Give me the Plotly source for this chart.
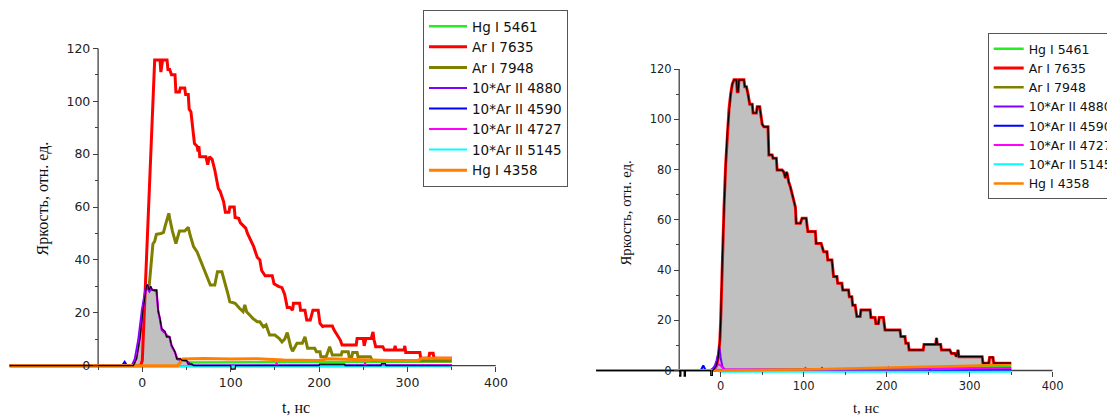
import plotly.graph_objects as go

W, H = 1115, 416
OFF = 8  # the page body has an 8 px margin; positions below are page pixels

# ---------------- left panel data ----------------
t_5461_L = [-150, 30, 45, 100, 150, 200, 250, 300, 350]
v_5461_L = [0, 0, 1.2, 1.3, 1.2, 1.4, 1.3, 1.5, 1.6]

t_7635_L = [-150, -2, 0, 7, 14, 20, 21, 23, 28, 29,
            31, 33, 37, 38, 42, 43, 48, 49, 52, 53,
            55, 57, 59, 62, 63, 64, 65, 72, 74, 76,
            79, 82, 86, 88, 92, 94, 98, 99, 104, 105,
            109, 111, 117, 119, 123, 126, 130, 133, 135, 139,
            147, 149, 154, 158, 161, 164, 167, 170, 171, 178,
            179, 184, 186, 190, 193, 199, 201, 204, 206, 215,
            217, 220, 224, 226, 242, 243, 250, 251, 253, 259,
            261, 262, 264, 272, 274, 285, 286, 287, 296, 297,
            298, 314, 315, 324, 325, 329, 330, 350]
v_7635_L = [0, 0, 2, 58, 115.6, 115.6, 111, 115.6, 115.6, 112,
            112, 110, 110, 103.5, 103.5, 105, 105, 102.5, 102.5, 97,
            96, 90, 84, 83, 81, 83, 79, 79, 76, 79,
            78, 74, 67, 66, 62, 58, 58, 60, 60, 56,
            55.7, 54, 52, 50, 47, 45, 41, 40, 36, 34,
            34, 31, 30, 29.5, 27, 22, 22, 21, 23.6, 23.6,
            21, 21, 17.3, 17.3, 21, 21, 16, 14.8, 15, 15,
            13.5, 12, 9.7, 7.8, 7.8, 10.3, 10.3, 7.5, 10.3, 10.3,
            12.8, 10, 7.2, 7.2, 5.9, 5.9, 7.5, 5.9, 5.9, 7.5,
            5, 5, 2.8, 2.8, 4.7, 4.7, 2.8, 2.8]

t_7948_L = [-150, -3, 0, 3, 5, 8, 10, 12, 14, 16,
            21, 24, 26, 30, 31, 34, 38, 40, 42, 48,
            52, 54, 58, 62, 65, 68, 72, 77, 82, 85,
            90, 94, 97, 99, 105, 110, 114, 116, 118, 122,
            125, 130, 133, 137, 140, 144, 150, 155, 158, 161,
            164, 168, 170, 175, 181, 184, 187, 195, 197, 201,
            202, 208, 212, 215, 225, 226, 233, 234, 237, 238,
            243, 244, 258, 260, 350]
v_7948_L = [0, 0, 3, 12, 20, 31, 40, 46, 47, 49.7,
            50, 50.4, 53, 57.6, 55.7, 51, 46.2, 49, 50.9, 50.9,
            52.3, 49.5, 45, 43, 40.6, 38, 35, 30.5, 30.5, 35.5,
            35.5, 31, 27, 24.2, 23.6, 21.7, 20.4, 23, 20.4, 19,
            17.9, 16.6, 16.6, 14.7, 15.4, 11.6, 11.6, 10.3, 9, 10,
            12.5, 7, 5.5, 8.5, 8.5, 10.9, 6.6, 6.6, 5.3, 5.3,
            3.4, 3.4, 7.2, 4, 4, 5.3, 5.3, 3.4, 3.4, 5,
            5, 3.4, 3.4, 2, 1.8]

t_4880_L = [-150, -12, -8.5, -4.5, -0.5, 3.5, 5.5, 8, 10, 16,
            18, 20, 22, 25, 31, 33, 37, 40, 50, 55, 60, 350]
v_4880_L = [0, 0, 2.6, 10, 21, 29, 29.5, 28, 29, 28,
            21, 17, 13.5, 12.5, 10.5, 7.5, 5, 2.4, 1.8, 0.5, 0, 0.2]

t_4590_L = [-150, -23, -20, -17, 0, 10, 20, 40, 100, 200, 300, 350]
v_4590_L = [0, 0, 1.5, 0, 0, 0.8, 0.5, 0.2, 0.1, 0.2, 0.1, 0.2]

t_4727_L = [-150, -10, -6.4, -2.6, 1.1, 4.9, 6, 7.9, 9.4, 11.3,
            16.2, 17, 18, 20, 21.9, 25.7, 27.5, 31, 33, 37,
            39, 43, 45, 50, 52, 56, 58, 150, 152, 154,
            250, 252, 254, 350]
v_4727_L = [0, 0, 2.8, 10.4, 21.7, 30.5, 30.5, 28.6, 30, 28.6,
            28.6, 25.5, 20.4, 17.9, 14, 12.9, 10.9, 10.9, 7.8, 5.2,
            2.6, 2.6, 2, 2, 0.6, 0.6, 0, 0, 0.8, 0,
            0, 0.9, 0, 0.3]

t_5145_L = [-150, -5, 0, 100, 200, 300, 350]
v_5145_L = [0, 0, -0.4, -0.4, -0.3, -0.3, -0.3]

t_4358_L = [-150, 40, 46, 70, 100, 130, 160, 200, 210, 240, 280, 312, 316, 350]
v_4358_L = [0, 0, 2.5, 2.7, 2.5, 2.6, 2.2, 2.0, 2.6, 2.3, 2.0, 2.0, 2.8, 2.8]

# filled (grey) series of the left panel
t_fill_L = [-150, -10, -6.4, -2.6, 1.1, 4.9, 6, 7.9, 9.4, 11.3,
            16.2, 17, 18, 20, 21.9, 25.7, 27.5, 31, 33, 37,
            39, 43, 45, 50, 52, 56, 58, 100, 100.5, 105,
            105.5, 200, 200.5, 229, 229.5, 270, 270.5, 275, 275.5, 350]
v_fill_L = [0, 0, 2.8, 10.4, 21.7, 30.5, 30.5, 28.6, 30, 28.6,
            28.6, 25.5, 20.4, 17.9, 14, 12.9, 10.9, 10.9, 7.8, 5.2,
            2.6, 2.6, 2, 2, 0.6, 0.6, 0, 0, -1.3, -1.3,
            0, 0, 0.6, 0.6, 0, 0, 0.8, 0.8, 0, 0]

# ---------------- right panel data ----------------
t_5461_R = [-150, 0, 100, 200, 300, 350]
v_5461_R = [0, 0, 0.3, 0.7, 1.2, 1.5]

t_7635_R = [-150, -12, -8, -5, -3, -1, 0, 2, 4, 6,
            8, 10, 12, 14, 16, 19, 20, 21, 22, 28,
            29, 31, 33, 35, 38, 39, 43, 44, 47, 48,
            50, 52, 57, 58, 62, 63, 67, 68, 74, 76,
            78, 79, 80, 82, 84, 87, 90, 91, 96, 98,
            103, 105, 114, 115, 121, 124, 128, 129, 134, 136,
            140, 141, 146, 147, 154, 155, 158, 159, 162, 164,
            168, 169, 180, 181, 186, 187, 190, 191, 196, 198,
            216, 217, 222, 223, 226, 227, 244, 245, 259, 260,
            261, 265, 266, 276, 278, 282, 284, 286, 287, 315,
            316, 323, 324, 328, 329, 350]
v_7635_R = [0, 0, 0.5, 2, 5, 12, 20, 45, 65, 82,
            95, 104, 110, 114, 115.7, 115.7, 111, 111, 115.7, 115.7,
            113, 113, 110, 106, 106, 102.5, 102.5, 105, 105, 102.5,
            98, 97, 97, 85.8, 85.8, 84.5, 84.5, 79.8, 79.8, 79,
            76.6, 79, 78.5, 75, 73, 69, 65, 58.6, 58.6, 60.6,
            60.6, 55.3, 55.3, 50.6, 50.6, 47.3, 47.3, 44, 44, 37.4,
            37.4, 34.7, 34.7, 32, 32, 29.4, 29.4, 26, 26, 21.5,
            21.5, 24.1, 24.1, 21.1, 21.1, 18.7, 18.7, 21.1, 21.1, 16.1,
            16.1, 13.5, 13.5, 10.8, 10.8, 8.2, 8.2, 10.4, 10.4, 13,
            10.4, 10.4, 8.2, 8.2, 6.8, 6.8, 5.5, 8.2, 5.5, 5.5,
            2.9, 2.9, 5.2, 5.2, 2.9, 2.9]

t_7948_R = [-150, 0, 100, 200, 350]
v_7948_R = [0, 0, 0.4, 0.6, 1.0]

t_4880_R = [-150, -12, -9, -7, -5, -3, -1.5, 0, 2, 5, 120, 122, 124, 200, 202, 204, 350]
v_4880_R = [0, 0, 1, 2, 4, 6.5, 9, 5, 1.5, 0.3, 0.2, 1, 0.2, 0.3, 1.2, 0.3, 0.5]

t_4590_R = [-150, -24, -21, -18, 0, 350]
v_4590_R = [0, 0, 2, 0, 0, 0.3]

t_4727_R = [-150, -10, -6, -3, 0, 4, 100, 102, 104, 250, 252, 254, 350]
v_4727_R = [0, 0, 1, 2.5, 2, 0.5, 0.3, 1, 0.3, 0.5, 1.3, 0.5, 1]

t_5145_R = [-150, -5, 0, 350]
v_5145_R = [0, 0, -0.5, -0.5]

t_4358_R = [-150, -2, 100, 200, 250, 300, 350]
v_4358_R = [0, 0, 0.4, 1.0, 1.4, 1.9, 2.4]

# baseline of the filled series before the rise (right panel)
t_base_R = [-150, -49.5, -49.5, -48, -48, -44, -44, -42.5, -42.5, -12, -12, -10, -10]
v_base_R = [0, 0, -2.2, -2.2, 0, 0, -2.2, -2.2, 0, 0, -2.0, -2.0, 0]

names = ["Hg I 5461", "Ar I 7635", "Ar I 7948", "10*Ar II 4880",
         "10*Ar II 4590", "10*Ar II 4727", "10*Ar II 5145", "Hg I 4358"]
colors = ["#22ee22", "#ff0000", "#808000", "#8000ff",
          "#0000ff", "#ff00ff", "#00ffff", "#ff8000"]

left_series = [(t_5461_L, v_5461_L), (t_7635_L, v_7635_L), (t_7948_L, v_7948_L),
               (t_4880_L, v_4880_L), (t_4590_L, v_4590_L), (t_4727_L, v_4727_L),
               (t_5145_L, v_5145_L), (t_4358_L, v_4358_L)]
right_series = [(t_5461_R, v_5461_R), (t_7635_R, v_7635_R), (t_7948_R, v_7948_R),
                (t_4880_R, v_4880_R), (t_4590_R, v_4590_R), (t_4727_R, v_4727_R),
                (t_5145_R, v_5145_R), (t_4358_R, v_4358_R)]
left_widths = [2.5, 3, 3, 2, 2, 2, 2, 3]
right_widths = [2.5, 3, 2.5, 2, 2, 2, 2, 2.5]

# right filled series = baseline + Ar I 7635 from the rise on
t_fill_R = t_base_R + [t for t in t_7635_R if t >= -8]
v_fill_R = v_base_R + [v for t, v in zip(t_7635_R, v_7635_R) if t >= -8]


def PX(px):
    return (px - OFF) / W


def PY(py):
    return 1 - (py - OFF) / H


fig = go.Figure()


def add_fill(tf, vf, xa, ya):
    fig.add_trace(go.Scatter(x=tf, y=vf, mode="lines", fill="tozeroy",
                             fillcolor="#c0c0c0", line=dict(width=0, color="#c0c0c0"),
                             showlegend=False, hoverinfo="skip", xaxis=xa, yaxis=ya))


def add_line(series, widths, i, xa, ya, legend):
    t, v = series[i]
    fig.add_trace(go.Scatter(x=t, y=v, mode="lines", name=names[i],
                             line=dict(color=colors[i], width=widths[i]),
                             xaxis=xa, yaxis=ya, legend=legend, legendrank=100 + i))


def add_outline(tf, vf, xa, ya):
    fig.add_trace(go.Scatter(x=tf, y=vf, mode="lines",
                             line=dict(color="#000000", width=1.2),
                             showlegend=False, xaxis=xa, yaxis=ya))


# left panel: Ar I 7948 / Hg I 5461 / 4590 lie under the grey area
for i in (0, 2, 4):
    add_line(left_series, left_widths, i, "x", "y", "legend")
add_fill(t_fill_L, v_fill_L, "x", "y")
for i in (1, 3, 5, 6, 7):
    add_line(left_series, left_widths, i, "x", "y", "legend")
add_outline(t_fill_L, v_fill_L, "x", "y")

# right panel: grey area first, all lines above it
add_fill(t_fill_R, v_fill_R, "x2", "y2")
for i in range(8):
    add_line(right_series, right_widths, i, "x2", "y2", "legend2")
add_outline(t_fill_R, v_fill_R, "x2", "y2")

AX = "#404040"
SANS = "DejaVu Sans"
SERIF = "Liberation Serif"


def xax(dom, rng, pos, fs):
    return dict(domain=dom, range=rng, anchor="free", position=pos,
                showline=False, showgrid=False, zeroline=False,
                tickmode="array", tickvals=[0, 100, 200, 300, 400],
                ticks="outside", ticklen=5, tickwidth=1.3, tickcolor=AX,
                minor=dict(tickmode="array", tickvals=[-50, 50, 150, 250, 350],
                           ticks="outside", ticklen=3, tickwidth=1.3, tickcolor=AX),
                tickfont=dict(family=SANS, size=fs, color="#222"))


def yax(dom, rng, pos, fs):
    return dict(domain=dom, range=rng, anchor="free", position=pos,
                showline=False, showgrid=False, zeroline=False,
                tickmode="array", tickvals=[0, 20, 40, 60, 80, 100, 120],
                ticks="outside", ticklen=5, tickwidth=1.3, tickcolor=AX,
                minor=dict(tickmode="array", tickvals=[10, 30, 50, 70, 90, 110],
                           ticks="outside", ticklen=3, tickwidth=1.3, tickcolor=AX),
                tickfont=dict(family=SANS, size=fs, color="#222"))


# left panel: t=0 at x 142.3 px, 0.884 px/ns ; value 0 at y 365.7 px, 2.645 px/unit
# right panel: t=0 at x 720.7 px, 0.83 px/ns ; value 0 at y 370.5 px, 2.512 px/unit
fig.update_layout(
    width=W, height=H,
    margin=dict(l=0, r=0, t=0, b=0, autoexpand=False),
    paper_bgcolor="white", plot_bgcolor="white",
    xaxis=xax([PX(142.3 - 151.5 * 0.884), PX(142.3 + 400 * 0.884)], [-151.5, 400],
              PY(365.7), 12.5),
    yaxis=yax([PY(365.7 + 3 * 2.645), PY(365.7 - 120 * 2.645)], [-3, 120],
              PX(97.8), 12.5),
    xaxis2=xax([PX(720.7 - 155 * 0.83), PX(720.7 + 400 * 0.83)], [-155, 400],
               PY(370.5), 11.5),
    yaxis2=yax([PY(370.5 + 4 * 2.512), PY(370.5 - 120 * 2.512)], [-4, 120],
               PX(679), 11.5),
    legend=dict(x=PX(423), y=PY(10), xanchor="left", yanchor="top",
                bgcolor="white", bordercolor="#555", borderwidth=1, itemwidth=38,
                font=dict(family=SANS, size=13.5, color="#111"), tracegroupgap=0),
    legend2=dict(x=PX(987.7), y=PY(33), xanchor="left", yanchor="top",
                 bgcolor="white", bordercolor="#555", borderwidth=1, itemwidth=30,
                 font=dict(family=SANS, size=12.5, color="#111"), tracegroupgap=0),
    showlegend=True,
)

# axis lines (drawn from -50 and from 0 only, as in the original)
for xr, yr in (("x", "y"), ("x2", "y2")):
    fig.add_shape(type="line", xref=xr, yref=yr, x0=-50, x1=-50, y0=0, y1=120,
                  line=dict(color=AX, width=1.3), layer="below")
    fig.add_shape(type="line", xref=xr, yref=yr, x0=-50, x1=400, y0=0, y1=0,
                  line=dict(color=AX, width=1.3), layer="below")

# axis titles
fig.add_annotation(text="Яркость, отн. ед.", xref="paper", yref="paper",
                   x=PX(42), y=PY(198.5), textangle=-90, showarrow=False,
                   xanchor="center", yanchor="middle",
                   font=dict(family=SERIF, size=16, color="#111"))
fig.add_annotation(text="t, нс", xref="paper", yref="paper",
                   x=PX(296), y=PY(407), showarrow=False,
                   xanchor="center", yanchor="middle",
                   font=dict(family=SERIF, size=16, color="#111"))
fig.add_annotation(text="Яркость, отн. ед.", xref="paper", yref="paper",
                   x=PX(625), y=PY(213.5), textangle=-90, showarrow=False,
                   xanchor="center", yanchor="middle",
                   font=dict(family=SERIF, size=14.8, color="#111"))
fig.add_annotation(text="t, нс", xref="paper", yref="paper",
                   x=PX(866), y=PY(408), showarrow=False,
                   xanchor="center", yanchor="middle",
                   font=dict(family=SERIF, size=14.8, color="#111"))

fig.write_html("out.html")
